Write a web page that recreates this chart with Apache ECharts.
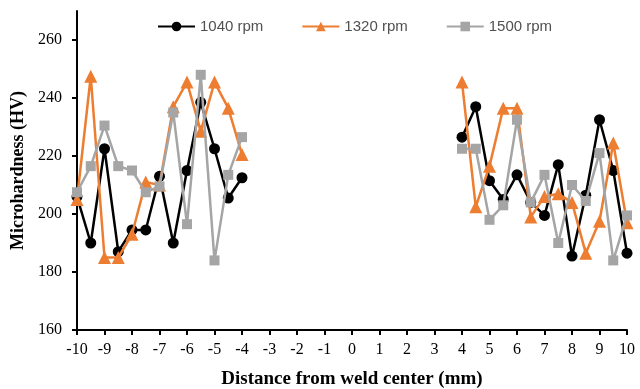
<!DOCTYPE html>
<html><head><meta charset="utf-8">
<script src="https://cdn.jsdelivr.net/npm/echarts@6/dist/echarts.min.js"></script>
<style>html,body{margin:0;padding:0;background:#fff}#c{width:640px;height:389px}</style>
</head><body><div id="c"></div>
<script>
const xLeft = [-10,-9.5,-9,-8.5,-8,-7.5,-7,-6.5,-6,-5.5,-5,-4.5,-4];
const xRight = [4,4.5,5,5.5,6,6.5,7,7.5,8,8.5,9,9.5,10];
const rpm1040Left = [206,190,222.5,187,194.5,194.5,213,190,215,238.5,222.5,205.5,212.5];
const rpm1040Right = [226.5,237,211.5,205,213.5,204,199.5,217,185.5,206.5,232.5,215,186.5];
const rpm1320Left = [205,247.5,185,185,193,211,210,237,245.5,228.5,245.5,236.5,220.5];
const rpm1320Right = [245.5,202.5,216.5,236.5,236.5,199,206,207,204,186.5,197.5,224.5,197];
const rpm1500Left = [207.5,216.5,230.5,216.5,215,207.5,209.5,235,196.5,248,184,213.5,226.5];
const rpm1500Right = [222.5,222.5,198,203,232.5,204,213.5,190,210,204.5,221,184,199.5];
const xTicks = [-10,-9,-8,-7,-6,-5,-4,-3,-2,-1,0,1,2,3,4,5,6,7,8,9,10];
const yTicks = [160,180,200,220,240,260];
const seriesNames = ['1040 rpm','1320 rpm','1500 rpm'];

function build(left, right){
  const d = xLeft.map((x,i)=>[x,left[i]]);
  d.push([0,'-']);
  return d.concat(xRight.map((x,i)=>[x,right[i]]));
}
const colors = ['#000000','#ED7D31','#A5A5A5'];
const symbols = ['circle','triangle','rect'];
const sizes = [11,13,10];
const datas = [build(rpm1040Left,rpm1040Right), build(rpm1320Left,rpm1320Right), build(rpm1500Left,rpm1500Right)];

const chart = echarts.init(document.getElementById('c'));
chart.setOption({
  animation:false,
  grid:{left:77,right:13,top:11,bottom:59,containLabel:false,outerBoundsMode:'none'},
  legend:{
    top:14,left:152,itemGap:38,itemWidth:37,itemHeight:12,
    textStyle:{fontFamily:'Liberation Sans',fontSize:15,color:'#505050'},
    data:seriesNames
  },
  xAxis:{
    type:'value',min:-10,max:10,interval:1,
    name:'Distance from weld center (mm)',nameLocation:'middle',nameGap:40,
    nameTextStyle:{fontFamily:'Liberation Serif',fontWeight:'bold',fontSize:19,color:'#000'},
    axisLine:{onZero:false,lineStyle:{color:'#000',width:2}},
    axisTick:{show:true,length:5,lineStyle:{color:'#000',width:2},customValues:xTicks},
    axisLabel:{fontFamily:'Liberation Serif',fontSize:16,color:'#000',margin:12,customValues:xTicks},
    splitLine:{show:false}
  },
  yAxis:{
    type:'value',min:160,max:270,interval:20,
    name:'Microhardness (HV)',nameLocation:'middle',nameGap:45,
    nameTextStyle:{fontFamily:'Liberation Serif',fontWeight:'bold',fontSize:18,color:'#000'},
    axisLine:{show:true,onZero:false,lineStyle:{color:'#000',width:2}},
    axisTick:{show:true,length:5,lineStyle:{color:'#000',width:2},customValues:yTicks},
    axisLabel:{fontFamily:'Liberation Serif',fontSize:16,color:'#000',margin:15,customValues:yTicks},
    splitLine:{show:false}
  },
  series: seriesNames.map((n,i)=>({
    name:n,type:'line',data:datas[i],
    symbol:symbols[i],symbolSize:sizes[i],showAllSymbol:true,
    itemStyle:{color:colors[i]},
    lineStyle:{color:colors[i],width:2.5},
    connectNulls:false,z:2+i
  }))
});
</script></body></html>
